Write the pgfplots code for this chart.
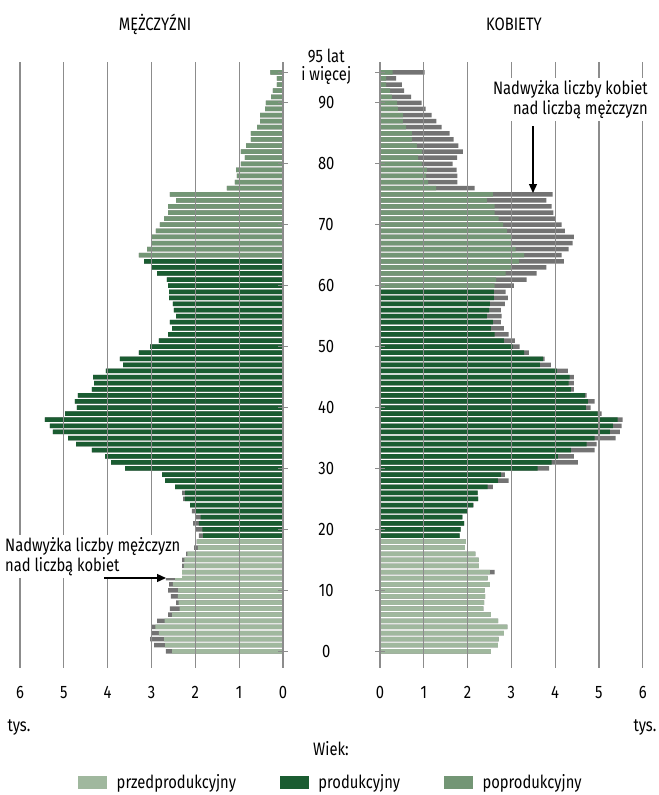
\documentclass[border=0pt]{standalone}
\usepackage{fontspec}
\setmainfont{Fira Sans}[FakeStretch=0.82]
\usepackage{pgfplots}
\pgfplotsset{compat=1.18}
\usepackage{pgfplotstable}
\usetikzlibrary{arrows.meta}
\definecolor{pre}{HTML}{A0B89E}
\definecolor{pro}{HTML}{1A5C31}
\definecolor{pop}{HTML}{739675}
\definecolor{exc}{HTML}{737373}
\definecolor{grd}{HTML}{8C8C8C}

\pgfplotstableread{
age m f
0 2.67 2.53
1 2.94 2.69
2 3.03 2.71
3 2.99 2.83
4 3.01 2.91
5 2.87 2.70
6 2.62 2.53
7 2.58 2.36
8 2.44 2.38
9 2.56 2.40
10 2.62 2.39
11 2.60 2.51
12 2.67 2.46
13 2.51 2.62
14 2.40 2.26
15 2.37 2.25
16 2.21 2.18
17 2.03 1.94
18 1.97 1.96
19 1.92 1.82
20 1.98 1.84
21 2.05 1.92
22 1.98 1.88
23 2.08 2.00
24 2.12 2.14
25 2.28 2.24
26 2.30 2.23
27 2.46 2.58
28 2.69 2.94
29 2.76 2.85
30 3.60 3.86
31 3.92 4.52
32 4.06 4.43
33 4.36 4.90
34 4.72 4.95
35 4.90 5.38
36 5.25 5.48
37 5.32 5.52
38 5.43 5.54
39 4.97 5.06
40 4.70 4.81
41 4.75 4.90
42 4.68 4.72
43 4.36 4.43
44 4.31 4.43
45 4.33 4.43
46 4.04 4.29
47 3.65 3.90
48 3.72 3.76
49 3.29 3.40
50 3.03 3.19
51 2.83 3.08
52 2.62 2.94
53 2.53 2.83
54 2.58 2.76
55 2.44 2.78
56 2.49 2.76
57 2.51 2.85
58 2.60 2.92
59 2.60 2.87
60 2.62 3.06
61 2.65 3.35
62 2.87 3.58
63 2.99 3.80
64 3.17 4.20
65 3.29 4.15
66 3.10 4.31
67 3.00 4.40
68 2.99 4.43
69 2.90 4.22
70 2.81 4.15
71 2.71 4.00
72 2.62 3.96
73 2.62 3.92
74 2.44 3.80
75 2.58 3.94
76 1.28 2.16
77 1.10 1.77
78 1.05 1.77
79 1.07 1.75
80 0.96 1.66
81 0.87 1.76
82 0.96 1.89
83 0.84 1.79
84 0.73 1.68
85 0.73 1.59
86 0.59 1.41
87 0.52 1.29
88 0.52 1.18
89 0.41 1.04
90 0.39 0.95
91 0.27 0.71
92 0.23 0.55
93 0.14 0.50
94 0.14 0.37
95 0.29 1.02
}\pyr

\begin{document}
\begin{tikzpicture}[font=\fontsize{18bp}{21bp}\selectfont]
\useasboundingbox (0bp,-795bp) rectangle (659bp,0bp);
\pgfplotsset{
  pyr/.style={
    scale only axis, width=263bp, height=605.7bp,
    xmin=0, xmax=6, ymin=-2.7, ymax=96.7,
    xtick={0,...,6}, xmajorgrids,
    grid style={grd, line width=1.2bp},
    axis line style={draw=none},
    xtick style={draw=none},
    ytick style={grd, line width=1.1bp},
    major tick length=9.5bp, tick align=center,
    axis on top,
    tick label style={font=\fontsize{18bp}{18bp}\selectfont},
    xticklabel style={anchor=center, yshift=-20bp},
    /pgf/number format/assume math mode=true,
  },
  pbar/.style={xbar, bar width=4.5bp, bar shift=0pt, draw=none, forget plot},
}
% Men
\begin{axis}[pyr, at={(20bp,-667.75bp)}, anchor=south west, x dir=reverse,
  ytick pos=right, ytick={0,10,...,90,95}, yticklabel=\empty]
\addplot[pbar, fill=exc] table[x=m, y=age] {\pyr};
\addplot[pbar, fill=pre, restrict y to domain=0:18.5] table[x expr={min(\thisrow{m},\thisrow{f})}, y=age] {\pyr};
\addplot[pbar, fill=pro, restrict y to domain=18.5:64.5] table[x expr={min(\thisrow{m},\thisrow{f})}, y=age] {\pyr};
\addplot[pbar, fill=pop, restrict y to domain=64.5:95.5] table[x expr={min(\thisrow{m},\thisrow{f})}, y=age] {\pyr};
\end{axis}
% Women
\begin{axis}[pyr, width=262.7bp, at={(380bp,-667.75bp)}, anchor=south west,
  ytick pos=left, ytick={0,10,...,90},
  extra y ticks={95}, extra y tick labels={{95 lat\\i więcej}},
  extra y tick style={yticklabel style={yshift=6bp}},
  yticklabel style={anchor=center, xshift=-49bp, align=center},
  legend style={at={(-0.1865,-0.1886)}, anchor=center, draw=none, fill=none,
    legend columns=3, font=\fontsize{18bp}{21bp}\selectfont,
    /tikz/every odd column/.append style={column sep=8bp},
    /tikz/every even column/.append style={column sep=42bp}},
  legend cell align=left]
\addplot[pbar, fill=exc] table[x=f, y=age] {\pyr};
\addplot[pbar, fill=pre, restrict y to domain=0:18.5] table[x expr={min(\thisrow{m},\thisrow{f})}, y=age] {\pyr};
\addplot[pbar, fill=pro, restrict y to domain=18.5:59.5] table[x expr={min(\thisrow{m},\thisrow{f})}, y=age] {\pyr};
\addplot[pbar, fill=pop, restrict y to domain=59.5:95.5] table[x expr={min(\thisrow{m},\thisrow{f})}, y=age] {\pyr};
\addlegendimage{legend image code/.code={\fill[pre] (0bp,-6bp) rectangle (28bp,6bp);}}
\addlegendentry{przedprodukcyjny}
\addlegendimage{legend image code/.code={\fill[pro] (0bp,-6bp) rectangle (28bp,6bp);}}
\addlegendentry{produkcyjny}
\addlegendimage{legend image code/.code={\fill[pop] (0bp,-6bp) rectangle (28bp,6bp);}}
\addlegendentry{poprodukcyjny}
\end{axis}
% Annotations
\node at (155bp,-24bp) {MĘŻCZYŹNI};
\node at (514bp,-24bp) {KOBIETY};
\node at (19bp,-727bp) {tys.};
\node at (645bp,-727bp) {tys.};
\node at (331bp,-749bp) {Wiek:};
\node[anchor=north west, align=left, fill=white, inner sep=2bp, font=\fontsize{18bp}{20bp}\selectfont] at (3bp,-535bp) {Nadwyżka liczby mężczyzn\\nad liczbą kobiet};
\draw[-{Triangle[length=9bp,width=8bp]}, line width=1.3bp] (104bp,-578bp) -- (166bp,-578bp);
\node[anchor=north east, align=right, fill=white, inner sep=2bp, font=\fontsize{18bp}{20bp}\selectfont] at (650bp,-78bp) {Nadwyżka liczby kobiet\\nad liczbą mężczyzn};
\draw[-{Triangle[length=9bp,width=8bp]}, line width=1.3bp] (533bp,-126bp) -- (533bp,-193bp);
\end{tikzpicture}
\end{document}
